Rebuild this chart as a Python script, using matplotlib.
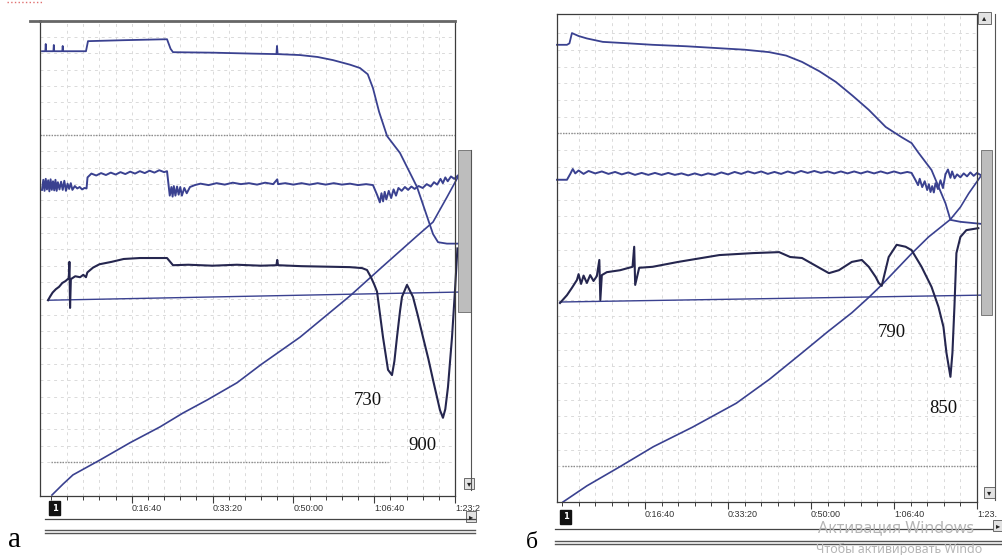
import numpy as np
import matplotlib
matplotlib.use("Agg")
from matplotlib import pyplot as plt
from matplotlib.lines import Line2D
from matplotlib.patches import Rectangle

# time in seconds, signals in % of the channel scale

# panel a
a_tg = np.array([(-111, 93.1), (-70, 93.1), (-65, 94.6), (-60, 93.1), (30, 93.1), (35, 94.4), (40, 93.1),
                 (140, 93.1), (145, 94.2), (150, 93.1), (433, 93.1), (458, 95.2), (900, 95.4), (1436, 95.6),
                 (1480, 93.6), (1510, 92.9), (2000, 92.8), (2500, 92.6), (2790, 92.5), (2797, 94.2), (2805, 92.5),
                 (3082, 92.3), (3300, 91.9), (3490, 91.25), (3700, 90.3), (3824, 89.6), (3920, 88.3), (3985, 85.4),
                 (4060, 80.5), (4160, 75.4), (4319, 71.9), (4530, 64.8), (4728, 55.0), (4790, 53.3), (4900, 53.0),
                 (5037, 53.0)])
a_dtg = np.array([(-111, 64.2), (-95, 66.3), (-80, 64.0), (-65, 66.5), (-50, 64.3), (-35, 66.2), (-20, 63.9),
                  (-5, 66.4), (10, 64.2), (25, 66.0), (40, 64.1), (55, 66.3), (70, 64.0), (85, 65.8), (105, 64.3),
                  (125, 65.9), (145, 64.2), (165, 66.1), (185, 64.0), (205, 65.5), (225, 64.4), (245, 65.6),
                  (265, 64.2), (295, 65.0), (325, 64.5), (355, 64.8), (385, 64.3), (415, 64.6), (440, 64.5),
                  (452, 66.8), (470, 67.1), (500, 67.6), (560, 67.2), (620, 67.7), (680, 67.3), (740, 67.8),
                  (800, 67.4), (860, 67.9), (920, 67.5), (980, 68.0), (1040, 67.6), (1100, 68.1), (1160, 67.7),
                  (1220, 68.2), (1280, 67.8), (1340, 68.3), (1400, 67.9), (1436, 68.1),
                  (1470, 63.0), (1490, 64.8), (1505, 62.8), (1520, 65.0), (1540, 63.0), (1560, 64.9), (1580, 63.2),
                  (1600, 64.8), (1620, 63.0), (1650, 64.6), (1680, 63.5), (1720, 64.8), (1780, 65.2),
                  (1850, 65.5), (1950, 65.2), (2050, 65.6), (2150, 65.3), (2250, 65.7), (2350, 65.4), (2450, 65.6),
                  (2550, 65.3), (2650, 65.7), (2750, 65.4), (2800, 66.4), (2810, 65.4), (2900, 65.6), (3000, 65.3),
                  (3100, 65.6), (3200, 65.3), (3300, 65.6), (3400, 65.3), (3500, 65.6), (3600, 65.3), (3700, 65.5),
                  (3800, 65.2), (3900, 65.4), (3985, 65.2),
                  (4040, 63.0), (4070, 61.6), (4090, 63.5), (4110, 61.8), (4130, 63.8), (4150, 62.2), (4180, 64.0),
                  (4210, 62.5), (4240, 64.3), (4270, 63.0), (4300, 64.6), (4340, 64.0), (4380, 64.8), (4420, 64.2),
                  (4460, 64.9), (4500, 64.4), (4550, 65.0), (4600, 64.6), (4650, 65.4), (4700, 64.9), (4740, 65.8),
                  (4780, 65.3), (4820, 66.5), (4850, 65.6), (4880, 66.8), (4910, 66.0), (4950, 67.0), (4990, 66.5),
                  (5037, 67.2)])
a_dta = np.array([(-37, 41.2), (-10, 42.0), (20, 42.8), (60, 43.5), (100, 44.0), (140, 44.8), (180, 45.2),
                  (220, 45.8), (228, 49.2), (236, 39.6), (246, 45.6), (300, 46.2), (360, 46.0), (400, 46.5),
                  (433, 46.0), (450, 47.0), (520, 48.0), (600, 48.7), (750, 49.2), (900, 49.8), (1100, 50.0),
                  (1300, 50.0), (1436, 50.0), (1510, 48.5), (1700, 48.6), (2000, 48.4), (2300, 48.6), (2600, 48.4),
                  (2790, 48.5), (2800, 49.6), (2810, 48.5), (3100, 48.3), (3400, 48.2), (3700, 48.1), (3850, 47.9),
                  (3911, 47.5), (3960, 46.0), (4000, 44.5), (4035, 43.0), (4070, 38.5), (4109, 33.5), (4171, 26.7),
                  (4220, 25.6), (4250, 28.5), (4282, 33.5), (4320, 39.0), (4344, 41.9), (4406, 44.4), (4480, 41.9),
                  (4540, 38.0), (4604, 33.5), (4670, 29.0), (4728, 24.6), (4814, 18.3), (4851, 16.7), (4880, 18.5),
                  (4913, 23.1), (4963, 33.5), (5000, 43.3), (5030, 52.0)])
a_base = np.array([(-37, 41.2), (5037, 42.9)])
a_temp = np.array([(12, 0.6), (150, 2.9), (272, 4.8), (606, 7.9), (978, 11.5), (1349, 14.8), (1634, 17.7),
                   (1931, 20.4), (2302, 24.0), (2600, 27.8), (3082, 33.5), (3700, 42.1), (4109, 48.3),
                   (4530, 54.6), (4728, 57.5), (4901, 62.7), (5037, 66.9)])
a_notes = ['730', '900']
a_note_t = [3923, 4591]
a_note_v = [20.4, 11.0]

# panel b
b_tg = np.array([(-60, 93.7), (60, 93.7), (90, 94.0), (120, 96.1), (200, 95.5), (300, 95.0), (492, 94.3),
                 (800, 94.0), (1092, 93.7), (1500, 93.4), (1896, 93.0), (2200, 92.7), (2496, 92.2), (2700, 91.5),
                 (2892, 90.2), (3100, 88.3), (3300, 86.1), (3500, 83.3), (3696, 80.4), (3900, 76.9), (4092, 74.8),
                 (4212, 73.6), (4296, 71.6), (4452, 68.1), (4620, 61.3), (4680, 57.9), (4800, 57.5), (5040, 57.1)])
b_dtg = np.array([(-60, 66.1), (60, 66.1), (100, 67.3), (130, 68.3), (160, 67.4), (200, 68.0), (260, 67.3),
                  (320, 67.9), (400, 67.4), (480, 67.8), (560, 67.3), (640, 67.7), (720, 67.2), (800, 67.6),
                  (880, 67.1), (960, 67.5), (1040, 67.1), (1120, 67.5), (1200, 67.1), (1280, 67.5), (1360, 67.1),
                  (1440, 67.4), (1520, 67.0), (1600, 67.4), (1680, 67.0), (1760, 67.4), (1840, 67.1), (1920, 67.6),
                  (2000, 67.2), (2080, 67.7), (2160, 67.3), (2240, 67.8), (2320, 67.4), (2400, 67.8), (2480, 67.3),
                  (2560, 67.7), (2640, 67.3), (2720, 67.8), (2800, 67.4), (2880, 67.9), (2960, 67.5), (3040, 67.9),
                  (3120, 67.5), (3200, 67.8), (3280, 67.4), (3360, 67.8), (3440, 67.4), (3520, 67.8), (3600, 67.4),
                  (3680, 67.8), (3760, 67.4), (3840, 67.8), (3920, 67.4), (4000, 67.8), (4080, 67.4), (4160, 67.7),
                  (4212, 67.5), (4260, 66.0), (4290, 65.0), (4310, 66.3), (4340, 64.6), (4370, 65.8), (4400, 64.0),
                  (4420, 65.2), (4440, 63.6), (4460, 64.8), (4480, 63.5), (4500, 65.4), (4530, 64.2), (4560, 66.0),
                  (4590, 64.4), (4620, 67.2), (4650, 68.2), (4680, 66.5), (4700, 67.8), (4730, 66.4), (4760, 67.2),
                  (4800, 66.6), (4840, 67.4), (4880, 66.8), (4920, 67.6), (4960, 66.9), (5000, 67.5), (5040, 67.1)])
b_dta = np.array([(-24, 40.9), (60, 42.5), (120, 44.0), (180, 45.6), (200, 46.8), (230, 44.8), (260, 46.5),
                  (300, 45.0), (340, 46.6), (380, 45.4), (420, 46.4), (450, 49.7), (462, 41.5), (480, 46.6),
                  (540, 47.2), (700, 47.6), (850, 48.3), (870, 52.4), (882, 44.6), (930, 48.1), (1092, 48.3),
                  (1400, 49.3), (1896, 50.7), (2300, 51.1), (2616, 51.3), (2750, 50.3), (2892, 50.1), (3100, 48.1),
                  (3216, 47.0), (3336, 47.6), (3492, 49.3), (3612, 49.7), (3696, 48.3), (3780, 46.2), (3816, 45.0),
                  (3852, 44.4), (3936, 50.3), (4032, 52.8), (4140, 52.4), (4212, 51.7), (4332, 48.3), (4452, 44.2),
                  (4536, 40.1), (4596, 36.0), (4632, 30.7), (4680, 25.8), (4704, 30.7), (4728, 40.1), (4752, 51.1),
                  (4800, 54.4), (4872, 55.8), (5016, 56.2)])
b_base = np.array([(-24, 41.1), (5040, 42.5)])
b_temp = np.array([(12, 0.2), (300, 3.5), (696, 7.4), (1100, 11.5), (1572, 15.5), (2100, 20.4), (2500, 25.3),
                   (2892, 30.7), (3200, 35.0), (3492, 38.9), (3700, 42.1), (3852, 44.6), (4212, 51.0), (4416, 54.4),
                   (4680, 58.0), (4800, 60.5), (4900, 63.3), (5040, 66.7)])
b_notes = ['790', '850']
b_note_t = [3972, 4596]
b_note_v = [34.8, 19.4]

tick_t = [1000, 2000, 3000, 4000, 5000]
a_ticklabels = ['0:16:40', '0:33:20', '0:50:00', '1:06:40', '1:23:2']
b_ticklabels = ['0:16:40', '0:33:20', '0:50:00', '1:06:40', '1:23.']
panel_labels = ['а', 'б']

W, H = 1003, 555
BLUE = '#3a4190'
DARK = '#25264f'
FRAME = '#3c3c3c'

fig = plt.figure(figsize=(W / 100, H / 100), dpi=100)
fig.patch.set_facecolor('white')


def box(l, t, r, b):
    return [l / W, 1 - b / H, (r - l) / W, (b - t) / H]


def fline(xs, ys, **kw):
    fig.add_artist(Line2D([x / W for x in xs], [1 - y / H for y in ys], **kw))


def frect(l, t, r, b, **kw):
    fig.add_artist(Rectangle((l / W, 1 - b / H), (r - l) / W, (b - t) / H, **kw))


def panel(ax, tg, dtg, dta, base, temp, xlim, ylim, labels, notes, nt, nv, low_end, pad, box_y):
    ax.set_xlim(*xlim)
    ax.set_ylim(*ylim)
    # faint grid of the recorder screen
    for t in np.arange(200, 5000, 200):
        ax.axvline(t, color='#dadada', lw=0.7, ls=(0, (3, 4)), zorder=0)
    for v in np.arange(7.5, 99, 3.406):
        ax.axhline(v, color='#dadada', lw=0.7, ls=(0, (3, 4)), zorder=0)
    ax.axhline(75.6, color='#8a8a8a', lw=1.0, ls=(0, (1, 1)), zorder=1)
    ax.plot([0, low_end], [7.5, 7.5], color='#8a8a8a', lw=1.0, ls=(0, (1, 1)), zorder=1)

    ax.plot(base[:, 0], base[:, 1], color=BLUE, lw=1.0, clip_on=False)
    ax.plot(temp[:, 0], temp[:, 1], color=BLUE, lw=1.2, clip_on=False)
    ax.plot(tg[:, 0], tg[:, 1], color=BLUE, lw=1.3, clip_on=False, solid_joinstyle='round')
    ax.plot(dtg[:, 0], dtg[:, 1], color=BLUE, lw=1.4, clip_on=False, solid_joinstyle='round')
    ax.plot(dta[:, 0], dta[:, 1], color=DARK, lw=1.5, clip_on=False, solid_joinstyle='round')

    for s, t, v in zip(notes, nt, nv):
        ax.text(t, v, s, fontsize=13.5, family='Liberation Serif', ha='center', va='center', color='#111111')

    ax.set_yticks([])
    ax.set_xticks(tick_t)
    ax.set_xticklabels(labels, ha='left', fontsize=6.5, family='Liberation Sans', color='#333333')
    ax.set_xticks(np.arange(0, 5001, 200), minor=True)
    ax.tick_params(axis='x', which='major', direction='out', length=5, width=0.8, color=FRAME, pad=pad)
    ax.tick_params(axis='x', which='minor', direction='out', length=3, width=0.7, color=FRAME)
    for sp in ax.spines.values():
        sp.set_color(FRAME)
        sp.set_linewidth(0.9)
    ax.text(12, box_y, '1', transform=ax.get_xaxis_transform(), ha='left', va='center', color='white',
            fontsize=6, fontweight='bold', family='DejaVu Sans',
            bbox=dict(boxstyle='square,pad=0.3', fc='#111111', ec='#111111'))


ax_a = fig.add_axes(box(40, 21, 455, 496))
ax_b = fig.add_axes(box(557, 14, 977, 502))

panel(ax_a, a_tg, a_dtg, a_dta, a_base, a_temp, (-136, 5000), (0.4, 99.4), a_ticklabels,
      a_notes, a_note_t, a_note_v, 4170, 1.0, -0.026)
panel(ax_b, b_tg, b_dtg, b_dta, b_base, b_temp, (-60, 5000), (0.2, 100), b_ticklabels,
      b_notes, b_note_t, b_note_v, 5000, 1.0, -0.030)
ax_a.spines['top'].set_linewidth(2.0)
ax_a.spines['top'].set_color('#666666')

# window furniture around panel a
fline([30, 40], [21, 21], color='#666666', lw=2.0)
frect(458, 150, 471, 312, fc='#bdbdbd', ec='#6a6a6a', lw=0.6)
fline([471, 471], [150, 490], color='#555555', lw=0.8)
frect(464, 478, 474, 489, fc='#e2e2e2', ec='#555555', lw=0.6)
fig.text(469 / W, 1 - 483.5 / H, '▾', fontsize=6, ha='center', va='center', color='#222222')
fline([45, 475], [519, 519], color='#444444', lw=0.9)
fline([45, 475], [530, 530], color='#555555', lw=1.0)
fline([45, 475], [533, 533], color='#555555', lw=1.0)
frect(466, 511, 476, 522, fc='#e2e2e2', ec='#555555', lw=0.6)
fig.text(471 / W, 1 - 516.5 / H, '▸', fontsize=6, ha='center', va='center', color='#222222')

# window furniture around panel b
frect(981, 150, 992, 315, fc='#bdbdbd', ec='#6a6a6a', lw=0.6)
fline([995, 995], [14, 500], color='#555555', lw=0.8)
frect(978, 12, 991, 24, fc='#e2e2e2', ec='#555555', lw=0.6)
fig.text(984.5 / W, 1 - 18 / H, '▴', fontsize=6, ha='center', va='center', color='#222222')
frect(984, 487, 995, 498, fc='#e2e2e2', ec='#555555', lw=0.6)
fig.text(989.5 / W, 1 - 492.5 / H, '▾', fontsize=6, ha='center', va='center', color='#222222')
fline([555, 1003], [529, 529], color='#444444', lw=0.9)
fline([555, 1003], [541, 541], color='#555555', lw=1.0)
fline([555, 1003], [544, 544], color='#555555', lw=1.0)

# activation watermark caught in the screenshot
fig.text(818 / W, 1 - 528 / H, 'Активация Windows', fontsize=11.5, color='#b5b5b5', family='Noto Sans',
         va='center', ha='left')
fig.text(816 / W, 1 - 549 / H, 'Чтобы активировать Windo', fontsize=9, color='#b5b5b5',
         family='Noto Sans', va='center', ha='left')
frect(993, 520, 1003, 531, fc='#e2e2e2', ec='#555555', lw=0.6, zorder=5)
fig.text(998 / W, 1 - 525.5 / H, '▸', fontsize=6, ha='center', va='center', color='#222222', zorder=6)

# panel letters and a stray selection mark from the screenshot
fig.text(15 / W, 1 - 540 / H, panel_labels[0], fontsize=21, family='Liberation Serif', ha='center', va='center')
fig.text(532 / W, 1 - 543 / H, panel_labels[1], fontsize=17, family='Liberation Serif', ha='center', va='center')
fline([7, 43], [2, 2], color='#e07070', lw=1.0, ls=':')

fig.savefig('out.png', dpi=100, facecolor='white')
